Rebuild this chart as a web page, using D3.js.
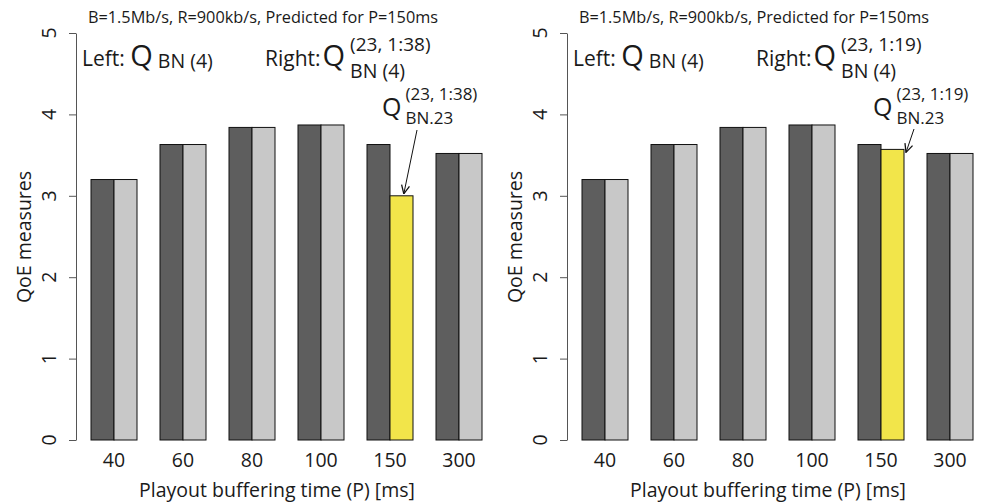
<!DOCTYPE html>
<html>
<head>
<meta charset="utf-8">
<script src="https://cdn.jsdelivr.net/npm/d3@7"></script>
<style>
  body { margin: 0; background: #fff; }
  svg text { font-family: "Open Sans", "Noto Sans", sans-serif; fill: #1a1a1a; }
</style>
</head>
<body>
<svg id="chart" width="984" height="503"></svg>
<script>
// playout buffering times (P) in ms
var categories = ["40", "60", "80", "100", "150", "300"];
// left bar of each pair: Q_BN(4)
var qBN4 = [3.20, 3.63, 3.84, 3.87, 3.63, 3.52];
// right bar of each pair, per panel (150 ms is the predicted Q_BN.23 value)
var qSub138 = [3.20, 3.63, 3.84, 3.87, 3.00, 3.52];
var qSub119 = [3.20, 3.63, 3.84, 3.87, 3.57, 3.52];
var predictedAt = "150";
var yTicks = [0, 1, 2, 3, 4, 5];
var panelTitle = "B=1.5Mb/s, R=900kb/s, Predicted for P=150ms";

var svg = d3.select("#chart");

var defs = svg.append("defs");
defs.append("marker")
    .attr("id", "arrowhead")
    .attr("viewBox", "0 0 10 10")
    .attr("refX", 9.5).attr("refY", 5)
    .attr("markerWidth", 10).attr("markerHeight", 10)
    .attr("markerUnits", "userSpaceOnUse")
    .attr("orient", "auto")
  .append("path")
    .attr("d", "M1,1 L9.5,5 L1,9")
    .attr("fill", "none")
    .attr("stroke", "#111")
    .attr("stroke-width", 1.3);

function drawPanel(offsetX, rightValues, range, arrowStart) {
    var g = svg.append("g").attr("transform", "translate(" + offsetX + ",0)");

    var x = d3.scaleBand()
        .domain(categories)
        .range([68, 482])
        .paddingInner(1 / 3)
        .paddingOuter(1 / 6)
        .align(1);

    var xSub = d3.scaleBand()
        .domain(["left", "right"])
        .range([0, x.bandwidth()]);

    var y = d3.scaleLinear()
        .domain([0, 5])
        .range([440, 33]);

    var data = categories.map(function(c, i) {
        return {cat: c, left: qBN4[i], right: rightValues[i]};
    });

    // y axis line + ticks
    var yAxis = g.append("g")
        .attr("transform", "translate(76,0)")
        .call(d3.axisLeft(y).tickValues(yTicks).tickSize(7).tickSizeOuter(0).tickFormat(""));
    yAxis.select(".domain").attr("stroke", "#555");
    yAxis.selectAll(".tick line").attr("stroke", "#555");

    // rotated tick labels, R style
    g.selectAll(".ylab")
        .data(yTicks)
      .enter().append("text")
        .attr("class", "ylab")
        .attr("transform", function(d) { return "translate(56," + y(d) + ") rotate(-90)"; })
        .style("text-anchor", "middle")
        .style("font-size", "19.5px")
        .text(function(d) { return d; });

    g.append("text")
        .attr("transform", "translate(31,237) rotate(-90)")
        .style("text-anchor", "middle")
        .style("font-size", "19.5px")
        .text("QoE measures");

    // bars
    var groups = g.selectAll(".grp")
        .data(data)
      .enter().append("g")
        .attr("class", "grp")
        .attr("transform", function(d) { return "translate(" + x(d.cat) + ",0)"; });

    groups.append("rect")
        .attr("x", xSub("left"))
        .attr("width", xSub.bandwidth())
        .attr("y", function(d) { return y(d.left); })
        .attr("height", function(d) { return y(0) - y(d.left); })
        .attr("fill", "#5e5e5e")
        .attr("stroke", "#111")
        .attr("stroke-width", 1);

    groups.append("rect")
        .attr("x", xSub("right"))
        .attr("width", xSub.bandwidth())
        .attr("y", function(d) { return y(d.right); })
        .attr("height", function(d) { return y(0) - y(d.right); })
        .attr("fill", function(d) { return d.cat === predictedAt ? "#f2e54a" : "#c8c8c8"; })
        .attr("stroke", "#111")
        .attr("stroke-width", 1);

    // x tick labels (no axis line)
    g.selectAll(".xlab")
        .data(categories)
      .enter().append("text")
        .attr("class", "xlab")
        .attr("x", function(d) { return x(d) + x.bandwidth() / 2; })
        .attr("y", 467)
        .style("text-anchor", "middle")
        .style("font-size", "19.5px")
        .text(function(d) { return d; });

    g.append("text")
        .attr("x", 277).attr("y", 497)
        .style("text-anchor", "middle")
        .style("font-size", "19.5px")
        .text("Playout buffering time (P) [ms]");

    g.append("text")
        .attr("x", 263).attr("y", 23)
        .style("text-anchor", "middle")
        .style("font-size", "16.3px")
        .text(panelTitle);

    // legend: Left: Q_BN(4)
    var lt = g.append("text").attr("x", 82).attr("y", 66);
    lt.append("tspan").style("font-size", "21px").text("Left: ");
    lt.append("tspan").style("font-size", "29px").text("Q");
    lt.append("tspan").attr("dx", 5).attr("dy", 2).style("font-size", "19.5px").text("BN (4)");

    // legend: Right: Q^(range)_BN(4)
    var rt = g.append("text").attr("x", 265).attr("y", 66);
    rt.append("tspan").style("font-size", "21px").text("Right:");
    rt.append("tspan").attr("dx", 2).style("font-size", "29px").text("Q");
    var rEnd = 265 + rt.node().getComputedTextLength() + 7;
    g.append("text").attr("x", rEnd).attr("y", 51)
        .style("font-size", "19px").text("(23, " + range + ")");
    g.append("text").attr("x", rEnd).attr("y", 78)
        .style("font-size", "19.5px").text("BN (4)");

    // annotation for predicted bar
    var pIdx = categories.indexOf(predictedAt);
    var barX = x(predictedAt) + xSub("right");
    var barTop = y(rightValues[pIdx]);
    var aq = g.append("text").attr("x", 382).attr("y", 116)
        .style("font-size", "25px").text("Q");
    var aEnd = 382 + aq.node().getComputedTextLength() + 4;
    g.append("text").attr("x", aEnd).attr("y", 100)
        .style("font-size", "17px").text("(23, " + range + ")");
    g.append("text").attr("x", aEnd).attr("y", 124)
        .style("font-size", "17px").text("BN.23");

    var tip = range === "1:38"
        ? [barX + xSub.bandwidth() * 0.6, barTop - 2]
        : [barX + xSub.bandwidth() + 2, barTop + 3];
    g.append("line")
        .attr("x1", arrowStart[0]).attr("y1", arrowStart[1])
        .attr("x2", tip[0]).attr("y2", tip[1])
        .attr("stroke", "#111")
        .attr("stroke-width", 1)
        .attr("marker-end", "url(#arrowhead)");
}

drawPanel(0, qSub138, "1:38", [417, 130]);
drawPanel(491, qSub119, "1:19", [423, 129]);
</script>
</body>
</html>
